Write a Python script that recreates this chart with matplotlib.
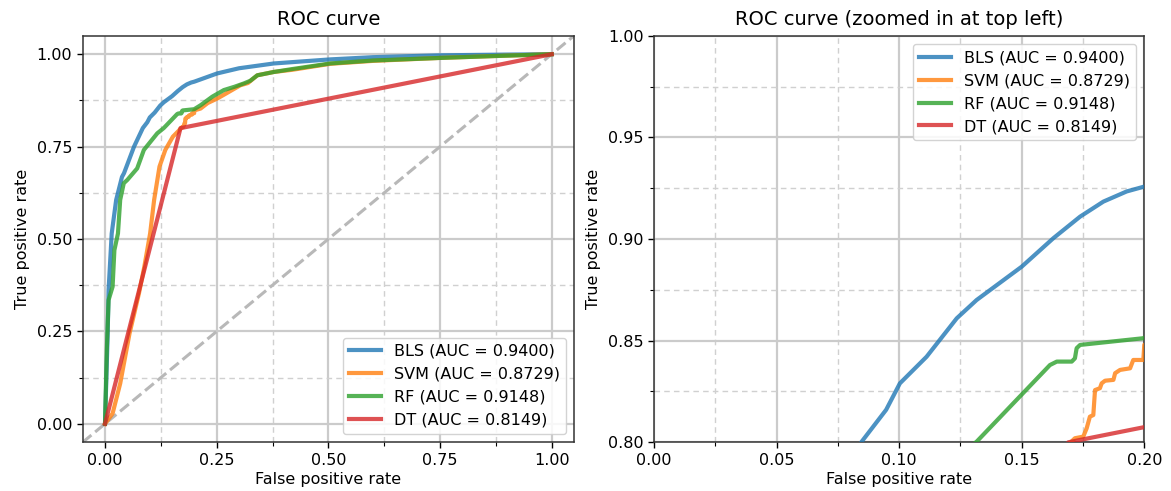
import matplotlib

matplotlib.use("Agg")
import matplotlib.pyplot as plt
from matplotlib.ticker import MultipleLocator

# ROC points (fpr, tpr)
BLS_FPR = [0.0, 0.006, 0.008, 0.015, 0.025, 0.038, 0.0425, 0.065, 0.0847, 0.0947, 0.1003, 0.1112,
           0.1235, 0.1316, 0.15, 0.1629, 0.1738, 0.1833, 0.1928, 0.2, 0.251, 0.3, 0.378, 0.504,
           0.6, 0.75, 0.9, 1.0]
BLS_TPR = [0.0, 0.245, 0.362, 0.515, 0.606, 0.668, 0.678, 0.75, 0.8003, 0.816, 0.829, 0.8421,
           0.861, 0.870, 0.8864, 0.9004, 0.911, 0.9184, 0.9234, 0.9258, 0.948, 0.962, 0.975, 0.986,
           0.992, 0.997, 0.999, 1.0]

SVM_FPR = [0.0, 0.017, 0.034, 0.055, 0.076, 0.088, 0.101, 0.110, 0.122, 0.135, 0.152, 0.165,
           0.170, 0.1717, 0.1751, 0.1765, 0.1778, 0.1792, 0.1799, 0.1819, 0.1826, 0.1840, 0.1874,
           0.1881, 0.1901, 0.1942, 0.1955, 0.1996, 0.2, 0.214, 0.230, 0.251, 0.270, 0.303, 0.320,
           0.341, 0.378, 0.420, 0.504, 0.600, 0.750, 0.870, 1.0]
SVM_TPR = [0.0, 0.028, 0.109, 0.245, 0.353, 0.425, 0.515, 0.606, 0.696, 0.741, 0.777, 0.793,
           0.800, 0.802, 0.8028, 0.8069, 0.8126, 0.8134, 0.8257, 0.8266, 0.829, 0.8303, 0.8307,
           0.834, 0.8356, 0.8364, 0.8405, 0.8405, 0.848, 0.853, 0.868, 0.880, 0.893, 0.916, 0.922,
           0.943, 0.952, 0.958, 0.974, 0.982, 0.990, 0.995, 1.0]

RF_FPR = [0.0, 0.004, 0.008, 0.017, 0.021, 0.029, 0.034, 0.042, 0.050, 0.072, 0.087, 0.117,
          0.1316, 0.1615, 0.1643, 0.1704, 0.1717, 0.1724, 0.1738, 0.1996, 0.214, 0.240, 0.266,
          0.290, 0.311, 0.325, 0.341, 0.378, 0.420, 0.504, 0.600, 0.750, 0.870, 1.0]
RF_TPR = [0.0, 0.200, 0.335, 0.371, 0.470, 0.515, 0.606, 0.651, 0.660, 0.691, 0.741, 0.786,
          0.8003, 0.838, 0.8397, 0.8397, 0.8413, 0.8463, 0.8479, 0.8512, 0.862, 0.885, 0.903,
          0.912, 0.921, 0.928, 0.943, 0.952, 0.960, 0.975, 0.983, 0.990, 0.995, 1.0]

DT_FPR = [0.0, 0.169, 1.0]
DT_TPR = [0.0, 0.800, 1.0]

MODELS = ["BLS", "SVM", "RF", "DT"]
AUCS = [0.9400, 0.8729, 0.9148, 0.8149]
CURVES = [(BLS_FPR, BLS_TPR), (SVM_FPR, SVM_TPR), (RF_FPR, RF_TPR), (DT_FPR, DT_TPR)]
COLORS = ["#1f77b4", "#ff7f0e", "#2ca02c", "#d62728"]

plt.rcParams["font.family"] = "DejaVu Sans"
plt.rcParams["font.size"] = 11.5


def draw_roc(ax, title, xlim, ylim, major, minor, legend_loc):
    ax.axline((0, 0), slope=1, color="#b8b8b8", linestyle="--", linewidth=2.2, zorder=1)
    for name, auc, (fpr, tpr), color in zip(MODELS, AUCS, CURVES, COLORS):
        ax.plot(fpr, tpr, color=color, alpha=0.8, linewidth=3,
                label=f"{name} (AUC = {auc:.4f})", zorder=3)
    ax.set_xlim(*xlim)
    ax.set_ylim(*ylim)
    ax.xaxis.set_major_locator(MultipleLocator(major))
    ax.yaxis.set_major_locator(MultipleLocator(major))
    ax.xaxis.set_minor_locator(MultipleLocator(minor))
    ax.yaxis.set_minor_locator(MultipleLocator(minor))
    ax.grid(which="major", color="#cbcbcb", linewidth=1.6, linestyle="-", zorder=0)
    ax.grid(which="minor", color="#d0d0d0", linewidth=1.0, linestyle=(0, (4, 3)), zorder=0)
    ax.set_axisbelow(True)
    ax.tick_params(which="major", length=4, width=1, direction="out", labelsize=11.5)
    ax.tick_params(which="minor", length=3, width=0.8, direction="out")
    for sp in ax.spines.values():
        sp.set_color("#333333")
        sp.set_linewidth(1.1)
    ax.set_xlabel("False positive rate", fontsize=11.5, labelpad=3)
    ax.set_ylabel("True positive rate", fontsize=11.5, labelpad=5)
    ax.set_title(title, fontsize=14, pad=8)
    leg = ax.legend(loc=legend_loc, fontsize=11.5, framealpha=0.85, edgecolor="#cccccc",
                    fancybox=True, handlelength=2.0, borderaxespad=0.5)
    leg.get_frame().set_linewidth(1.0)


fig = plt.figure(figsize=(11.71, 4.91), dpi=100)
ax1 = fig.add_axes([0.0706, 0.0992, 0.4196, 0.828])
ax2 = fig.add_axes([0.5585, 0.0992, 0.4187, 0.828])

draw_roc(ax1, "ROC curve", (-0.05, 1.05), (-0.05, 1.05), 0.25, 0.125, "lower right")
draw_roc(ax2, "ROC curve (zoomed in at top left)", (0.0, 0.2), (0.8, 1.0), 0.05, 0.025, "upper right")

fig.savefig("out.png", dpi=100)
